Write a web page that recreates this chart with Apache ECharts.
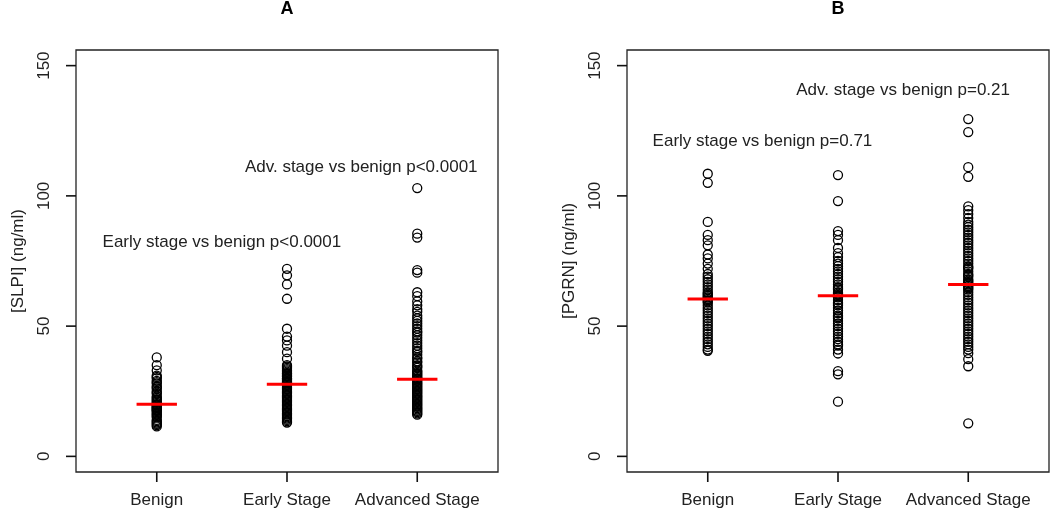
<!DOCTYPE html>
<html><head><meta charset="utf-8">
<script src="https://cdn.jsdelivr.net/npm/echarts@6/dist/echarts.min.js"></script>
<style>html,body{margin:0;padding:0;background:#fff}#c{width:1050px;height:514px}</style>
</head><body><div id="c"></div>
<script>
// ---------- data ----------
const categories = ['Benign', 'Early Stage', 'Advanced Stage'];
const xTicks = [1, 2, 3];
const yTicks = [0, 50, 100, 150];
const panelTitles = ['A', 'B'];
const yAxisNames = ['[SLPI] (ng/ml)', '[PGRN] (ng/ml)'];

const slpiBenign = [38, 35, 33, 31, 30.5, 30, 29, 28.5, 28, 27, 26.5, 26, 25, 24.5, 24, 23, 22.5, 22, 21.5, 21, 20.5, 20, 20, 19.8, 19.5, 19, 18.8, 18.5, 18, 17.8, 17.5, 17, 16.5, 16, 15.5, 15, 14, 13.5, 13, 12.5, 12, 11.5];
const slpiEarly = [72, 69.5, 66, 60.5, 49, 46, 44.5, 42.5, 40, 37.5, 35, 34.5, 34, 33.5, 33, 32.5, 32, 31.8, 31.5, 31, 30.8, 30.5, 30, 29.8, 29.5, 29, 28.8, 28.5, 28.2, 28, 27.5, 27, 26.5, 26, 25.5, 25, 24.5, 24, 23.5, 23, 22.5, 22, 21.5, 21, 20.5, 20, 19.5, 19, 18.5, 18, 17.5, 17, 16.5, 16, 15.5, 15, 14.5, 14, 13.5, 13];
const slpiAdvanced = [103, 85.5, 84, 71.5, 70.5, 63, 61.5, 59.5, 58, 56.5, 55.5, 54, 53, 52, 51, 50, 49, 48, 47.5, 46.5, 45.5, 44.5, 43.5, 42.5, 41.5, 40.5, 40, 39, 38, 37.5, 36.5, 36, 35, 34.5, 34, 33, 32.5, 32, 31.5, 31, 30.5, 30, 29.8, 29.5, 29, 28.5, 28, 27.5, 27, 26.5, 26, 25.5, 25, 24.5, 24, 23.5, 23, 22.5, 22, 21.5, 21, 20.5, 20, 19.5, 19, 18.5, 18, 17.5, 17, 16.5, 16];

const pgrnBenign = [108.5, 105, 90, 85, 83, 81, 77.5, 76, 74, 72, 70, 69, 68, 67, 66, 65, 64, 63, 62.5, 62, 61.5, 61, 60.5, 60, 59.5, 59, 58, 57, 56, 55, 54, 53, 52, 51, 50, 49, 48, 47, 46, 45, 44, 43, 42, 41, 40.5];
const pgrnEarly = [108, 98, 86.5, 85, 83, 80, 78, 76.5, 75, 74, 73, 72, 71, 70, 69, 68, 67, 66, 65, 64.5, 64, 63, 62.5, 62, 61.5, 61, 60, 59, 58.5, 58, 57, 56, 55, 54, 53.5, 53, 52, 51, 50, 49, 48, 47, 46, 45, 44, 43, 42.5, 41, 39.5, 32.7, 31.5, 21];
const pgrnAdvanced = [129.5, 124.5, 111, 107.3, 96, 94.5, 93, 91.5, 90, 89, 88, 87, 86, 85, 84, 83, 82, 81, 80, 79, 78, 77, 76, 75, 74, 73, 72.5, 72, 71, 70, 69.5, 69, 68, 67.5, 67, 66.5, 66, 65.5, 65, 64.5, 64, 63, 62, 61, 60, 59, 58, 57, 56, 55, 54, 53, 52, 51, 50, 49, 48, 47, 46, 45, 44, 43, 42, 41, 39.6, 37.3, 34.6, 12.7];

const slpiMedians = [20, 27.7, 29.6];
const pgrnMedians = [60.4, 61.7, 66];

const annotationsA = ['Early stage vs benign p<0.0001', 'Adv. stage vs benign p<0.0001'];
const annotationsB = ['Early stage vs benign p=0.71', 'Adv. stage vs benign p=0.21'];

// ---------- layout ----------
const X_MIN = 0.38, X_MAX = 3.62, Y_MIN = -6, Y_MAX = 156;
const annotAnchorsA = [[1.5, 82], [2.57, 111]];
const annotAnchorsB = [[1.42, 121], [2.5, 140.4]];
const FONT = '"Liberation Sans", Arial, Helvetica, sans-serif';
const INK = '#222';
const TICK_LEN = 10;

function pts(groups) {
  const out = [];
  groups.forEach((g, i) => g.forEach(v => out.push([i + 1, v])));
  return out;
}

function makeX(gi) {
  return {
    type: 'value', gridIndex: gi, min: X_MIN, max: X_MAX,
    splitLine: { show: false }, axisLine: { show: false, onZero: false },
    axisTick: { show: false },
    axisLabel: { customValues: xTicks, formatter: v => categories[Math.round(v) - 1], color: INK, fontSize: 17, fontFamily: FONT, margin: 20 }
  };
}
function makeY(gi) {
  return {
    type: 'value', gridIndex: gi, min: Y_MIN, max: Y_MAX,
    splitLine: { show: false }, axisLine: { show: false, onZero: false },
    axisTick: { show: false },
    axisLabel: { customValues: yTicks, rotate: 90, color: INK, fontSize: 17, fontFamily: FONT, margin: 23 },
    name: yAxisNames[gi], nameLocation: 'middle', nameGap: 49, nameRotate: 90,
    nameTextStyle: { color: INK, fontSize: 17, fontFamily: FONT }
  };
}
function ticks(gi) {
  const data = xTicks.map(v => [v, 0]).concat(yTicks.map(v => [v, 1]));
  return {
    type: 'custom', xAxisIndex: gi, yAxisIndex: gi, z: 5, silent: true, clip: false,
    data: data,
    renderItem: (params, api) => {
      const v = api.value(0), isY = api.value(1) === 1;
      const p = isY ? api.coord([X_MIN, v]) : api.coord([v, Y_MIN]);
      const shape = isY ? { x1: p[0], y1: p[1], x2: p[0] - TICK_LEN, y2: p[1] } : { x1: p[0], y1: p[1], x2: p[0], y2: p[1] + TICK_LEN };
      return { type: 'line', shape: shape, style: { stroke: '#111', lineWidth: 1.6 } };
    }
  };
}
function scatter(gi, groups) {
  return {
    type: 'scatter', xAxisIndex: gi, yAxisIndex: gi, symbol: 'circle', symbolSize: 9,
    itemStyle: { color: 'rgba(0,0,0,0)', borderColor: '#000', borderWidth: 1.3, opacity: 1 },
    data: pts(groups), silent: true, z: 2
  };
}
function medians(gi, meds) {
  return {
    type: 'custom', xAxisIndex: gi, yAxisIndex: gi, z: 3, silent: true,
    data: meds.map((m, i) => [i + 1, m]),
    renderItem: (params, api) => {
      const x = api.value(0), y = api.value(1);
      const p1 = api.coord([x - 0.155, y]), p2 = api.coord([x + 0.155, y]);
      return { type: 'line', shape: { x1: p1[0], y1: p1[1], x2: p2[0], y2: p2[1] }, style: { stroke: '#ff0000', lineWidth: 3 } };
    }
  };
}
function annots(gi, texts, anchors) {
  return {
    type: 'custom', xAxisIndex: gi, yAxisIndex: gi, z: 4, silent: true,
    data: anchors.map((a, i) => [a[0], a[1], i]),
    renderItem: (params, api) => {
      const p = api.coord([api.value(0), api.value(1)]);
      return { type: 'text', x: p[0], y: p[1], style: { text: texts[api.value(2)], fill: INK, font: '17px ' + FONT, textAlign: 'center', textVerticalAlign: 'middle' } };
    }
  };
}

const chart = echarts.init(document.getElementById('c'), null, { renderer: 'canvas' });
chart.setOption({
  animation: false,
  backgroundColor: '#fff',
  title: [
    { text: panelTitles[0], left: 287, top: 0, padding: 0, textAlign: 'center', textStyle: { fontSize: 18, fontWeight: 'bold', fontFamily: FONT, color: '#000' } },
    { text: panelTitles[1], left: 838, top: 0, padding: 0, textAlign: 'center', textStyle: { fontSize: 18, fontWeight: 'bold', fontFamily: FONT, color: '#000' } }
  ],
  grid: [
    { left: 76, right: 552, top: 50, bottom: 42, show: true, borderColor: INK, borderWidth: 1.3 },
    { left: 627, right: 1, top: 50, bottom: 42, show: true, borderColor: INK, borderWidth: 1.3 }
  ],
  xAxis: [makeX(0), makeX(1)],
  yAxis: [makeY(0), makeY(1)],
  series: [
    scatter(0, [slpiBenign, slpiEarly, slpiAdvanced]),
    scatter(1, [pgrnBenign, pgrnEarly, pgrnAdvanced]),
    medians(0, slpiMedians),
    medians(1, pgrnMedians),
    annots(0, annotationsA, annotAnchorsA),
    annots(1, annotationsB, annotAnchorsB),
    ticks(0),
    ticks(1)
  ]
});
</script></body></html>
